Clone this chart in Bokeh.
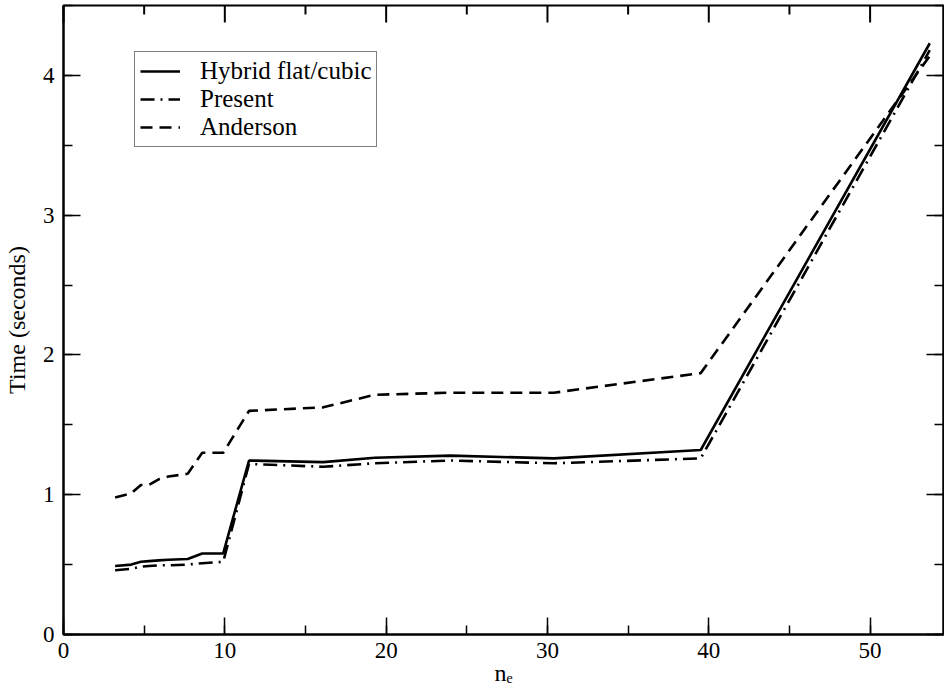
from bokeh.plotting import figure
from bokeh.models import (Range1d, LinearAxis, SingleIntervalTicker, Legend,
                          LegendItem, CustomJSTickFormatter)
from bokeh.embed import file_html
from bokeh.resources import INLINE

# ---- data ----
ne = [3.2, 4.2, 4.8, 5.3, 5.9, 6.5, 7.7, 8.6, 9.9, 11.5, 16.1, 19.3, 24.0, 30.4, 39.5, 53.7]
hybrid = [0.49, 0.50, 0.52, 0.525, 0.53, 0.535, 0.54, 0.58, 0.58, 1.245, 1.233, 1.265, 1.28, 1.26, 1.32, 4.23]
present = [0.46, 0.47, 0.485, 0.49, 0.495, 0.495, 0.50, 0.51, 0.52, 1.22, 1.20, 1.225, 1.245, 1.225, 1.26, 4.18]
anderson = [0.98, 1.01, 1.07, 1.07, 1.11, 1.13, 1.15, 1.30, 1.30, 1.60, 1.625, 1.715, 1.73, 1.73, 1.87, 4.14]
series_names = ["Hybrid flat/cubic", "Present", "Anderson"]
x_ticks_interval = 10
y_ticks_interval = 1
x_lim = (0, 54.55)
y_lim = (0, 4.5)
top_major = [0, 10, 20, 30, 40, 50]
top_minor = [5, 15, 25, 35, 45]

FONT = "Liberation Serif"

p = figure(width=944, height=695, output_backend="svg", toolbar_location=None,
           x_range=Range1d(*x_lim), y_range=Range1d(*y_lim),
           min_border_left=62, min_border_right=1, min_border_top=5,
           min_border_bottom=61)
p.background_fill_color = "white"
p.border_fill_color = "white"
p.outline_line_color = "black"
p.outline_line_width = 2
p.xgrid.visible = False
p.ygrid.visible = False

r1 = p.line(ne, hybrid, line_color="black", line_width=2.6)
r2 = p.line(ne, present, line_color="black", line_width=2.6, line_dash="14 6 2 6")
r3 = p.line(ne, anderson, line_color="black", line_width=2.6, line_dash="12 7")


def style_axis(ax, labels=True):
    ax.axis_line_color = "black"
    ax.axis_line_width = 2
    ax.major_tick_in = 17
    ax.major_tick_out = 0
    ax.minor_tick_in = 9
    ax.minor_tick_out = 0
    ax.major_tick_line_width = 1.5
    ax.minor_tick_line_width = 1.5
    ax.major_tick_line_color = "black"
    ax.minor_tick_line_color = "black"
    if labels:
        ax.major_label_text_font = FONT
        ax.major_label_text_font_size = "23px"
        ax.major_label_text_color = "black"
    else:
        ax.formatter = CustomJSTickFormatter(code="return ''")
        ax.major_label_standoff = 0


xt = SingleIntervalTicker(interval=x_ticks_interval, num_minor_ticks=2)
yt = SingleIntervalTicker(interval=y_ticks_interval, num_minor_ticks=2)

p.xaxis.ticker = xt
p.yaxis.ticker = yt
style_axis(p.xaxis[0])
style_axis(p.yaxis[0])
p.xaxis.major_label_standoff = 8
p.xaxis.axis_label = "n\u2091"
p.xaxis.axis_label_text_font = FONT
p.xaxis.axis_label_text_font_size = "24px"
p.xaxis.axis_label_text_font_style = "normal"
p.xaxis.axis_label_text_color = "black"
p.xaxis.axis_label_standoff = -1
p.yaxis.major_label_standoff = 9
p.yaxis.axis_label = "Time (seconds)"
p.yaxis.axis_label_text_font = FONT
p.yaxis.axis_label_text_font_size = "24px"
p.yaxis.axis_label_text_font_style = "normal"
p.yaxis.axis_label_text_color = "black"
p.yaxis.axis_label_standoff = 10

# mirrored ticks on the right side
right = LinearAxis(ticker=SingleIntervalTicker(interval=y_ticks_interval, num_minor_ticks=2))
style_axis(right, labels=False)
p.add_layout(right, "right")

# mirrored ticks along the top edge (inward)
px_per_y = 629 / (y_lim[1] - y_lim[0])
p.segment(x0=top_major, y0=[y_lim[1]] * len(top_major), x1=top_major,
          y1=[y_lim[1] - 17 / px_per_y] * len(top_major),
          line_color="black", line_width=2, level="overlay")
p.segment(x0=top_minor, y0=[y_lim[1]] * len(top_minor), x1=top_minor,
          y1=[y_lim[1] - 9 / px_per_y] * len(top_minor),
          line_color="black", line_width=2, level="overlay")

legend = Legend(items=[LegendItem(label=series_names[0], renderers=[r1]),
                       LegendItem(label=series_names[1], renderers=[r2]),
                       LegendItem(label=series_names[2], renderers=[r3])],
                location=(71, 487))
legend.label_text_font = FONT
legend.label_text_font_size = "25px"
legend.label_text_color = "black"
legend.label_height = 28
legend.glyph_height = 28
legend.glyph_width = 40
legend.label_standoff = 20
legend.padding = 5
legend.spacing = 0
legend.margin = 0
legend.border_line_color = "black"
legend.border_line_width = 1.5
legend.background_fill_color = "white"
legend.background_fill_alpha = 1
p.add_layout(legend, "center")

open("out.html", "w").write(file_html(p, INLINE))
